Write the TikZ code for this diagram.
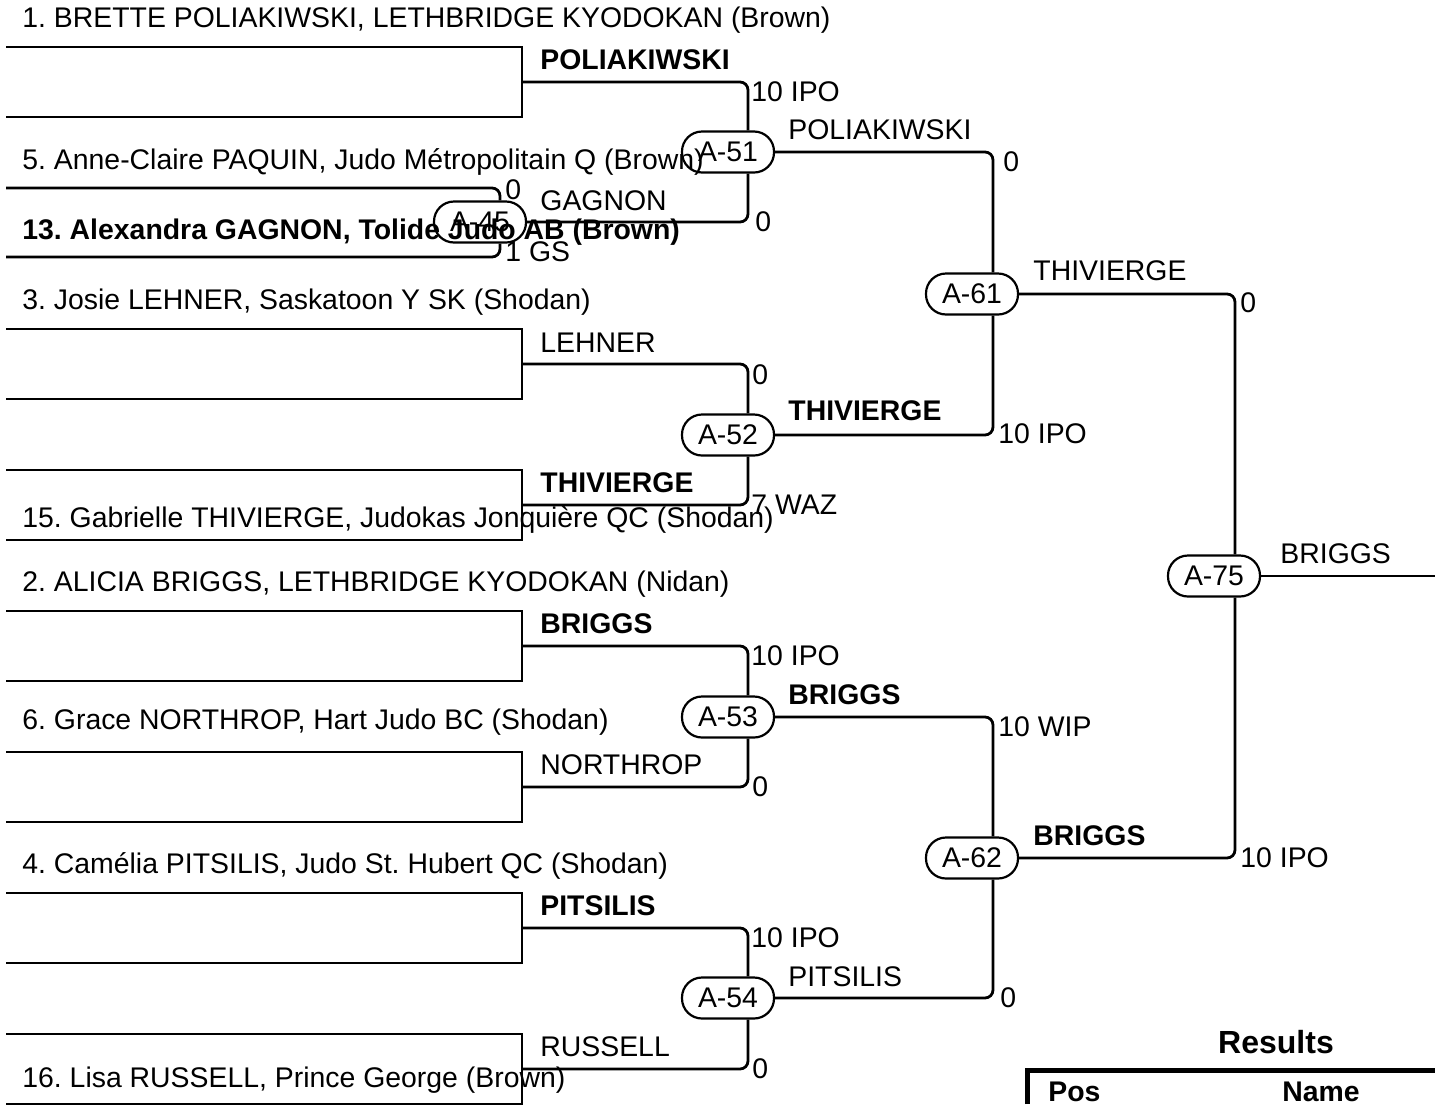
\documentclass[tikz,border=0pt]{standalone}
\usepackage{fontspec}
\setmainfont{Liberation Sans}
\usetikzlibrary{calc}
\newcommand\fs{\fontsize{14.2}{17}\selectfont}
\tikzset{
  conn/.style={line width=1.4pt, rounded corners=4pt},
  brk/.style={line width=1.4pt},
  match/.style={draw, line width=1.1pt, rounded corners=10pt, minimum width=46pt, minimum height=20.5pt, inner sep=0pt, font=\fs},
  lab/.style={anchor=west, inner sep=0pt, font=\fs},
  blab/.style={anchor=west, inner sep=0pt, font=\fs\bfseries},
}
\frenchspacing
\begin{document}
\begin{tikzpicture}[x=0.5pt,y=-0.5pt]
\useasboundingbox (0,0) rectangle (1435,1104);

% entry brackets (tops at 47 + 141k)
\foreach \t/\n in {47/1,329/3,470/15,611/2,752/6,893/4,1034/16}{
  \coordinate (ea\n) at (6,\t);
  \coordinate (eb\n) at (6,\t+70);
  \coordinate (w\n) at (522,\t+35);
  \draw[brk] (ea\n) -- (522,\t) -- (522,\t+70) -- (eb\n);
}

% entry texts
\node[lab] (t1) at (22,20) {1. BRETTE POLIAKIWSKI, LETHBRIDGE KYODOKAN (Brown)};
\node[lab] (t5) at (22,162) {5. Anne-Claire PAQUIN, Judo Métropolitain Q (Brown)};
\node[blab] (t13) at (22,232) {13. Alexandra GAGNON, Tolide Judo AB (Brown)};
\node[lab] (t3) at (22,302) {3. Josie LEHNER, Saskatoon Y SK (Shodan)};
\node[lab] (t15) at (22,520) {15. Gabrielle THIVIERGE, Judokas Jonquière QC (Shodan)};
\node[lab] (t2) at (22,584) {2. ALICIA BRIGGS, LETHBRIDGE KYODOKAN (Nidan)};
\node[lab] (t6) at (22,722) {6. Grace NORTHROP, Hart Judo BC (Shodan)};
\node[lab] (t4) at (22,866) {4. Camélia PITSILIS, Judo St. Hubert QC (Shodan)};
\node[lab] (t16) at (22,1080) {16. Lisa RUSSELL, Prince George (Brown)};

% match nodes
\node[match] (n45) at (480,222) {A-45};
\node[match] (n51) at (728,152) {A-51};
\node[match] (n52) at (728,435) {A-52};
\node[match] (n53) at (728,717) {A-53};
\node[match] (n54) at (728,998) {A-54};
\node[match] (n61) at (972,294) {A-61};
\node[match] (n62) at (972,858) {A-62};
\node[match] (n75) at (1214,576) {A-75};
\coordinate (fin) at (1435,576);

% A-45
\coordinate (ea5) at (6,188);
\coordinate (ea13) at (6,257);
\draw[conn] (ea5) -| ($(n45.north)+(20,0)$);
\draw[conn] (ea13) -| ($(n45.south)+(20,0)$);

% round 1
\draw[conn] (w1) -| ($(n51.north)+(20,0)$);
\draw[conn] (n45.east) -| ($(n51.south)+(20,0)$);
\draw[conn] (w3) -| ($(n52.north)+(20,0)$);
\draw[conn] (w15) -| ($(n52.south)+(20,0)$);
\draw[conn] (w2) -| ($(n53.north)+(20,0)$);
\draw[conn] (w6) -| ($(n53.south)+(20,0)$);
\draw[conn] (w4) -| ($(n54.north)+(20,0)$);
\draw[conn] (w16) -| ($(n54.south)+(20,0)$);

% round 2
\draw[conn] (n51.east) -| ($(n61.north)+(21,0)$);
\draw[conn] (n52.east) -| ($(n61.south)+(21,0)$);
\draw[conn] (n53.east) -| ($(n62.north)+(21,0)$);
\draw[conn] (n54.east) -| ($(n62.south)+(21,0)$);

% round 3
\draw[conn] (n61.east) -| ($(n75.north)+(21,0)$);
\draw[conn] (n62.east) -| ($(n75.south)+(21,0)$);
\draw[conn] (n75.east) -- (fin);

% winner labels round 1
\node[blab] (l1) at (540,60) {POLIAKIWSKI};
\node[lab] (l2) at (540,201) {GAGNON};
\node[lab] (l3) at (540,343) {LEHNER};
\node[blab] (l4) at (540,483) {THIVIERGE};
\node[blab] (l5) at (540,624) {BRIGGS};
\node[lab] (l6) at (540,765) {NORTHROP};
\node[blab] (l7) at (540,906) {PITSILIS};
\node[lab] (l8) at (540,1047) {RUSSELL};

% scores round 1
\node[lab] (s1) at (751,92) {10 IPO};
\node[lab] (s2) at (755,222) {0};
\node[lab] (s3) at (505,190) {0};
\node[lab] (s4) at (505,252) {1 GS};
\node[lab] (s5) at (752,375) {0};
\node[lab] (s6) at (751,505) {7 WAZ};
\node[lab] (s7) at (751,656) {10 IPO};
\node[lab] (s8) at (752,787) {0};
\node[lab] (s9) at (751,938) {10 IPO};
\node[lab] (s10) at (752,1069) {0};

% round 2 labels
\node[lab] (m1) at (788,130) {POLIAKIWSKI};
\node[blab] (m2) at (788,411) {THIVIERGE};
\node[blab] (m3) at (788,695) {BRIGGS};
\node[lab] (m4) at (788,977) {PITSILIS};
\node[lab] (r1) at (1003,162) {0};
\node[lab] (r2) at (998,434) {10 IPO};
\node[lab] (r3) at (998,727) {10 WIP};
\node[lab] (r4) at (1000,998) {0};

% round 3 labels
\node[lab] (q1) at (1033,271) {THIVIERGE};
\node[blab] (q2) at (1033,836) {BRIGGS};
\node[lab] (q3) at (1240,303) {0};
\node[lab] (q4) at (1240,858) {10 IPO};
\node[lab] (f1) at (1280,554) {BRIGGS};

% results
\node[font=\fontsize{16}{19}\selectfont\bfseries, inner sep=0pt] (res) at (1276,1042) {Results};
\coordinate (tl) at (1027,1070);
\coordinate (tr) at (1435,1070);
\coordinate (bl) at (1027,1104);
\draw[line width=2.5pt] (bl) -- (tl) -- (tr);
\node[blab] (pos) at (1048,1092) {Pos};
\node[blab] (nam) at (1282,1092) {Name};
\end{tikzpicture}
\end{document}
